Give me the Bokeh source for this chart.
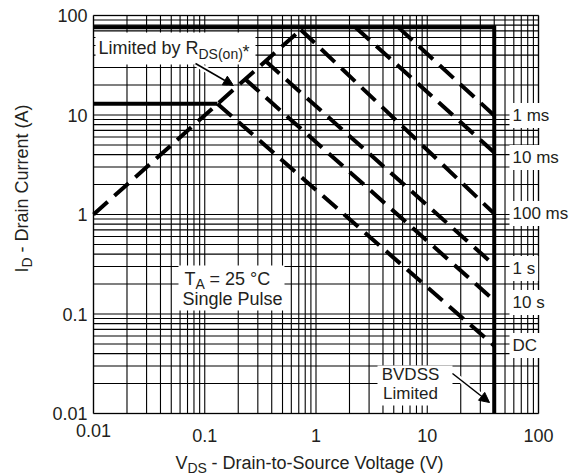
import numpy as np
from bokeh.plotting import figure
from bokeh.models import (FixedTicker, CustomJSTickFormatter, Label, BoxAnnotation, LogAxis,
                          Arrow, NormalHead, Range1d, ColumnDataSource)
from bokeh.embed import file_html
from bokeh.resources import INLINE

# ---------------- data ----------------
x_major = [0.01, 0.1, 1, 10, 100]
y_major = [0.01, 0.1, 1, 10, 100]
decade_exponents = [-2, -1, 0, 1]
minor_mantissas = [2, 3, 4, 5, 6, 7, 8, 9]

# R_DS(on) limit line
rds_v = [0.01, 0.73]
rds_i = [1.0, 72.0]

# absolute limits
v_min = 0.01
v_max = 100.0
i_min = 0.01
i_max = 100.0
id_pulse_max = 76.0
bvdss_v = 40.0
id_cont = 13.0
id_cont_v = 0.13

# pulse-duration limit lines
pulse_names = ["1 ms", "10 ms", "100 ms", "1 s", "10 s", "DC"]
pulse_v_start = [5.5, 2.26, 0.73, 0.35, 0.23, 0.13]
pulse_i_start = [76.0, 76.0, 72.0, 35.0, 23.0, 13.0]
pulse_v_end = [40.0, 40.0, 40.0, 40.0, 40.0, 40.0]
pulse_i_end = [9.9, 4.2, 1.02, 0.31, 0.137, 0.048]

# ---------------- layout ----------------
W, H = 569, 475
FONT = "Liberation Sans"
TXT = "#231f20"
# chart box on the canvas (px): left=0.01 V, top=100 A, decade sizes
BOX_L, BOX_T = 93, 15
DEC_X, DEC_Y = 111.25, 99.5
xr = Range1d(10 ** (-2 - BOX_L / DEC_X), 10 ** (-2 + (W - BOX_L) / DEC_X))
yr = Range1d(10 ** (2 - (H - BOX_T) / DEC_Y), 10 ** (2 + BOX_T / DEC_Y))

def sx(px):
    return px
def sy(py):
    return H - py

p = figure(width=W, height=H, x_axis_type="log", y_axis_type="log",
           x_range=xr, y_range=yr, output_backend="svg", toolbar_location=None,
           min_border=0)
p.background_fill_color = "white"
p.border_fill_color = "white"
p.outline_line_color = None
p.xgrid.visible = False
p.ygrid.visible = False

fmt = CustomJSTickFormatter(code="return tick.toString();")

def style_axis(ax, ticks, standoff):
    ax.ticker = FixedTicker(ticks=ticks, minor_ticks=[])
    ax.formatter = fmt
    ax.fixed_location = 0.01
    ax.axis_line_color = None
    ax.major_tick_line_color = None
    ax.minor_tick_line_color = None
    ax.major_tick_out = 0
    ax.major_tick_in = 0
    ax.minor_tick_out = 0
    ax.minor_tick_in = 0
    ax.major_label_text_font = FONT
    ax.major_label_text_font_size = "18px"
    ax.major_label_text_color = TXT
    ax.major_label_standoff = standoff

style_axis(p.xaxis[0], x_major[1:], 15)
style_axis(p.yaxis[0], y_major, 6)
x_first = LogAxis()
style_axis(x_first, x_major[:1], 10)
p.add_layout(x_first, "below")

# grid lines restricted to the chart box
grid_vals = x_major + [m * 10.0 ** e for e in decade_exponents for m in minor_mantissas]
p.segment(x0=grid_vals, y0=[i_min] * len(grid_vals), x1=grid_vals, y1=[i_max] * len(grid_vals),
          line_color="black", line_width=1.1)
p.segment(x0=[v_min] * len(grid_vals), y0=grid_vals, x1=[v_max] * len(grid_vals), y1=grid_vals,
          line_color="black", line_width=1.1)

# thick solid limit lines
p.line([v_min, bvdss_v, bvdss_v], [id_pulse_max, id_pulse_max, i_min],
       line_color="black", line_width=4, line_join="miter")
p.line([v_min, id_cont_v], [id_cont, id_cont], line_color="black", line_width=4)

# dashed lines
dash = "19 9"
p.line(rds_v, rds_i, line_color="black", line_width=4, line_dash=dash)
src = ColumnDataSource(dict(
    xs=[[a, b] for a, b in zip(pulse_v_start, pulse_v_end)],
    ys=[[a, b] for a, b in zip(pulse_i_start, pulse_i_end)],
))
p.multi_line("xs", "ys", source=src, line_color="black", line_width=4, line_dash=dash)

# chart frame
p.add_layout(BoxAnnotation(left=v_min, right=v_max, bottom=i_min, top=i_max,
                           fill_alpha=0, line_color="black", line_width=2))

# ---------------- annotations ----------------
def lab(text, x, y, size="18px", align="left", angle=0.0, bg=None, pad=0):
    kw = {}
    if bg is not None:
        kw["background_fill_color"] = bg
        kw["padding"] = pad
    l = Label(text=text, x=sx(x), y=sy(y), x_units="screen", y_units="screen",
              text_font=FONT, text_font_size=size, text_color=TXT,
              text_align=align, text_baseline="middle", angle=angle, **kw)
    p.add_layout(l)
    return l

def box(l, r, t, b):
    p.add_layout(BoxAnnotation(left=sx(l), right=sx(r), top=sy(t), bottom=sy(b),
                               left_units="screen", right_units="screen",
                               top_units="screen", bottom_units="screen",
                               fill_color="white", fill_alpha=1.0, line_color=None))

# white boxes behind in-plot texts
box(95, 255, 32, 64)
box(178, 284, 265, 310)
box(377, 452, 365, 405)

# right-side pulse labels
label_y = [115, 157, 213, 268, 302, 345]
for name, yy in zip(pulse_names, label_y):
    lab(name, 509, yy, size="17px", bg="white", pad=3)

# Limited by R_DS(on)*
lab("Limited by R", 98, 47)
lab("DS(on)", 198, 53, size="14px")
lab("*", 242, 51)

# T_A = 25 °C / Single Pulse
lab("T", 184, 278)
lab("A", 195, 283, size="14px")
lab("= 25 °C", 209, 278)
lab("Single Pulse", 232, 298, align="center")

# BVDSS Limited
lab("BVDSS", 410, 374, size="17px", align="center")
lab("Limited", 410, 393, size="17px", align="center")

# arrows (white halo + black arrow)
for (x0, y0, x1, y1) in [(195, 63, 233, 85), (452, 373, 489, 402)]:
    p.add_layout(Arrow(x_start=sx(x0), y_start=sy(y0), x_end=sx(x1), y_end=sy(y1),
                       start_units="screen", end_units="screen",
                       line_color="white", line_width=6, end=None))
    p.add_layout(Arrow(x_start=sx(x0), y_start=sy(y0), x_end=sx(x1), y_end=sy(y1),
                       start_units="screen", end_units="screen",
                       line_color="black", line_width=1.5,
                       end=NormalHead(size=10, fill_color="black", line_color="black")))

# axis titles (with subscripts)
lab("V", 175, 462)
lab("DS", 187, 467, size="14px")
lab("- Drain-to-Source Voltage (V)", 211, 462)

ang = np.pi / 2
lab("I", 21, 272, angle=ang)
lab("D", 26, 267, size="14px", angle=ang)
lab("- Drain Current (A)", 21, 252, angle=ang)

open("out.html", "w").write(file_html(p, INLINE))
